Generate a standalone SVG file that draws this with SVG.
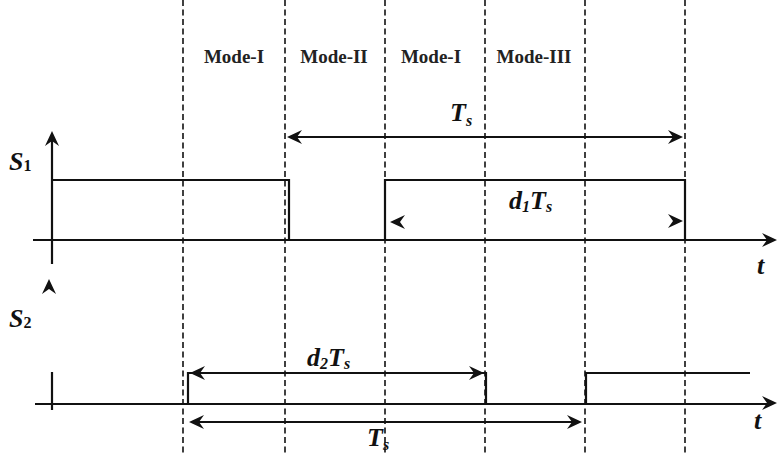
<svg xmlns="http://www.w3.org/2000/svg" xmlns:xlink="http://www.w3.org/1999/xlink" width="777" height="454" viewBox="0 0 777 454">
<style>
.dash{stroke:#111;stroke-width:1.6;stroke-dasharray:6,3.5;fill:none}
.ln{stroke:#111;stroke-width:2.2;fill:none}
.mode{font-family:"Liberation Serif",serif;font-weight:bold;font-size:19px;fill:#222;text-anchor:middle}
.math{font-family:"Liberation Serif",serif;font-style:italic;font-weight:bold;font-size:26px;fill:#111}
.sub{font-size:16px}
</style>
<defs>
<path id="ah" d="M0,0 L-15,-7 L-10,0 L-15,7 Z" fill="#111"/>
</defs>
<g id="grid">
<line class="dash" x1="183" y1="0" x2="183" y2="454"/>
<line class="dash" x1="285" y1="0" x2="285" y2="454"/>
<line class="dash" x1="385" y1="0" x2="385" y2="454"/>
<line class="dash" x1="485" y1="0" x2="485" y2="454"/>
<line class="dash" x1="585" y1="0" x2="585" y2="454"/>
<line class="dash" x1="685" y1="0" x2="685" y2="454"/>
</g>
<g id="modes">
<text class="mode" x="234" y="63">Mode-I</text>
<text class="mode" x="334" y="63">Mode-II</text>
<text class="mode" x="431" y="63">Mode-I</text>
<text class="mode" x="534" y="63">Mode-III</text>
</g>
<g id="s1">
<line class="ln" x1="52" y1="138" x2="52" y2="264"/>
<use href="#ah" transform="translate(52,131) rotate(-90)"/>
<line class="ln" x1="33" y1="240" x2="768" y2="240"/>
<use href="#ah" transform="translate(777,240)"/>
<polyline class="ln" points="52,180 289,180 289,240"/>
<polyline class="ln" points="385,240 385,180 685,180 685,240"/>
<text class="math" x="9" y="170" font-weight="normal">S<tspan class="sub" font-style="normal" dy="1">1</tspan></text>
<text class="math" x="757" y="274" font-weight="normal">t</text>
</g>
<g id="s2">
<line class="ln" x1="52" y1="372" x2="52" y2="410"/>
<use href="#ah" transform="translate(49,279) rotate(-90)"/>
<line class="ln" x1="35" y1="404" x2="768" y2="404"/>
<use href="#ah" transform="translate(777,403)"/>
<polyline class="ln" points="188,404 188,373 486,373 486,404"/>
<polyline class="ln" points="586,404 586,373 750,373"/>
<text class="math" x="9" y="327" font-weight="normal">S<tspan class="sub" font-style="normal" dy="1">2</tspan></text>
<text class="math" x="754" y="429" font-weight="normal">t</text>
</g>
<g id="connectors">
<line class="ln" x1="292" y1="137" x2="678" y2="137"/>
<use href="#ah" transform="translate(287,137) rotate(180)"/>
<use href="#ah" transform="translate(683,137)"/>
<use href="#ah" transform="translate(390,222) rotate(180)"/>
<use href="#ah" transform="translate(683,221)"/>
<use href="#ah" transform="translate(190,373) rotate(180)"/>
<use href="#ah" transform="translate(484,373)"/>
<line class="ln" x1="195" y1="422" x2="576" y2="422"/>
<use href="#ah" transform="translate(189,422) rotate(180)"/>
<use href="#ah" transform="translate(582,422)"/>
</g>
<g id="labels">
<text class="math" x="450" y="121">T<tspan class="sub" dy="5">s</tspan></text>
<text class="math" x="509" y="209">d<tspan class="sub" dy="3">1</tspan><tspan dy="-3">T</tspan><tspan class="sub" dy="3">s</tspan></text>
<text class="math" x="307" y="366">d<tspan class="sub" dy="3">2</tspan><tspan dy="-3">T</tspan><tspan class="sub" dy="3">s</tspan></text>
<text class="math" x="367" y="446">T<tspan class="sub" dy="4">s</tspan></text>
</g>
</svg>
